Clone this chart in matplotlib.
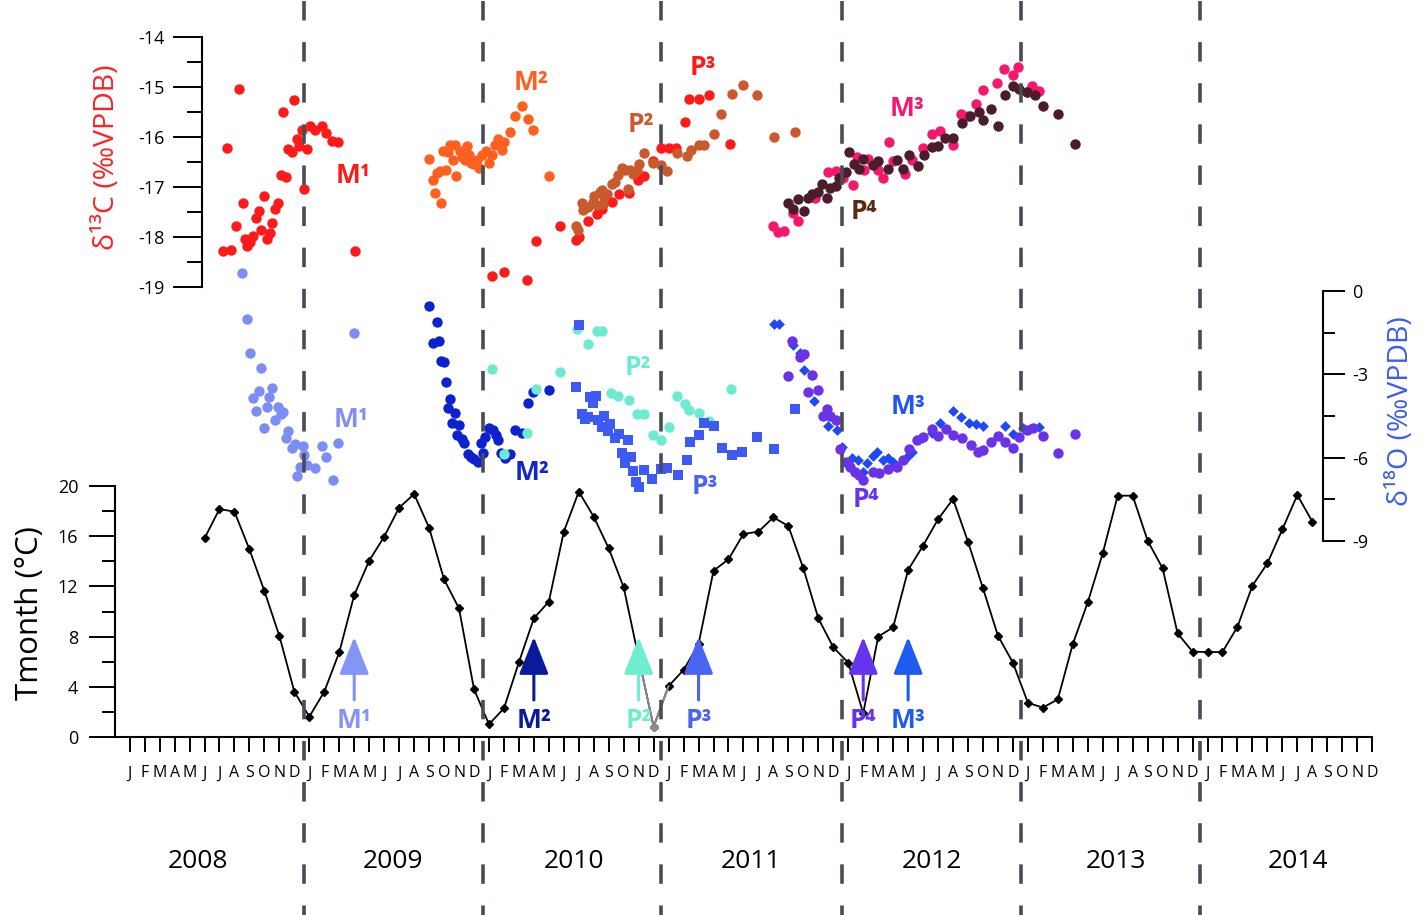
import matplotlib
matplotlib.use("Agg")
import matplotlib.pyplot as plt

plt.rcParams["font.family"] = ["Open Sans", "DejaVu Sans"]
plt.rcParams["axes.unicode_minus"] = False
plt.rcParams["lines.scale_dashes"] = False

# ── data (x = months since Jan 2008, 0 = Jan 2008) ───────────────
MONTH_LETTERS = list("JFMAMJJASOND")
YEARS = ["2008", "2009", "2010", "2011", "2012", "2013", "2014"]
YEAR_POS = [4.56, 17.59, 29.68, 41.5, 53.6, 65.88, 78.04]
BOUNDARIES = [11.65, 23.58, 35.52, 47.55, 59.53, 71.5]

T_MONTH = list(range(5, 80))
T_VALUE = [15.83, 18.17, 17.95, 14.95, 11.63, 8.05, 3.61,
           1.62, 3.61, 6.75, 11.31, 14.05, 15.96, 18.27, 19.36, 16.68, 12.56, 10.25, 3.82,
           1.01, 2.28, 5.95, 9.46, 10.78, 16.36, 19.55, 17.55, 15.03, 11.93, 6.3, 0.82,
           4.06, 5.34, 7.4, 13.25, 14.16, 16.18, 16.36, 17.5, 16.81, 13.44, 9.46, 7.15,
           5.92, 1.89, 8.0, 8.74, 13.31, 15.25, 17.35, 18.96, 15.56, 11.85, 8.07, 5.92,
           2.73, 2.34, 3.0, 7.41, 10.73, 14.64, 19.23, 19.23, 15.64, 13.44, 8.26, 6.8,
           6.77, 6.77, 8.79, 12.06, 13.84, 16.55, 19.28, 17.16]

# d13C
C_M1_X = [7.32, 6.52, 11.0, 10.26, 12.04, 12.83, 12.38, 11.53, 13.11, 11.16, 13.49, 13.93,
          11.33, 11.86, 10.55, 10.82, 10.09, 10.42, 11.66, 8.99, 7.55, 9.89, 9.71, 8.66,
          8.44, 9.53, 7.10, 8.77, 9.37, 8.22, 7.70, 9.15, 8.04, 7.86, 6.25, 6.77, 15.05]
C_M1_Y = [-15.04, -16.21, -15.26, -15.49, -15.77, -15.78, -15.86, -15.86, -15.91, -16.03, -16.07, -16.09,
          -16.17, -16.23, -16.24, -16.29, -16.76, -16.79, -17.03, -17.17, -17.31, -17.31, -17.43, -17.48,
          -17.61, -17.71, -17.77, -17.86, -17.91, -17.98, -18.04, -18.04, -18.09, -18.18, -18.27, -18.26, -18.28]

C_M2_X = [20.01, 20.24, 20.41, 20.78, 20.55, 20.73, 21.13, 20.95, 21.40, 21.73, 21.28, 21.58,
          21.80, 22.06, 22.18, 22.51, 22.40, 22.69, 22.78, 23.0, 23.18, 23.33, 23.55, 23.80,
          24.02, 24.22, 24.40, 24.58, 24.85, 25.02, 25.40, 25.74, 26.19, 26.59, 26.92, 28.01]
C_M2_Y = [-16.43, -16.86, -17.11, -17.31, -16.71, -16.68, -16.66, -16.27, -16.16, -16.16, -16.29, -16.46,
          -16.78, -16.27, -16.39, -16.18, -16.45, -16.36, -16.51, -16.54, -16.46, -16.61, -16.35, -16.27,
          -16.51, -16.35, -16.16, -16.04, -16.25, -16.09, -15.89, -15.57, -15.38, -15.63, -15.85, -16.77]

C_P3_X = [24.18, 25.02, 26.52, 27.14, 28.74, 29.79, 30.01, 30.63, 31.20, 31.57, 32.20, 32.69,
          33.35, 33.93, 34.38, 34.94, 35.49, 36.05, 36.49, 37.09, 37.38, 38.05, 38.72, 40.10]
C_P3_Y = [-18.78, -18.69, -18.86, -18.07, -17.78, -18.06, -18.0, -17.67, -17.53, -17.43, -17.29, -17.14,
          -17.11, -16.86, -16.78, -16.47, -16.21, -16.21, -16.21, -15.69, -15.24, -15.23, -15.15, -16.13]

C_P2_X = [29.79, 29.97, 30.19, 30.41, 30.30, 30.63, 30.93, 31.04, 31.20, 31.42, 31.53, 31.68,
          31.86, 31.64, 32.20, 32.42, 32.64, 32.87, 33.09, 33.31, 33.42, 33.64, 33.91, 34.04,
          34.38, 34.94, 35.49, 35.87, 36.58, 37.25, 37.47, 38.05, 38.38, 39.03, 39.50, 40.21,
          40.95, 41.88, 43.04, 44.44]
C_P2_Y = [-17.78, -17.86, -17.31, -17.39, -17.45, -17.39, -17.29, -17.18, -17.36, -17.09, -17.05, -17.19,
          -17.14, -17.34, -16.93, -16.89, -16.76, -16.61, -16.65, -17.03, -16.65, -16.73, -16.65, -16.54,
          -16.31, -16.51, -16.56, -16.68, -16.33, -16.38, -16.25, -16.16, -16.16, -15.94, -15.54, -15.14,
          -14.96, -15.16, -15.99, -15.89]

C_M3_X = [42.99, 43.33, 43.73, 44.33, 44.62, 45.78, 46.67, 47.18, 47.67, 48.30, 48.60, 49.05,
          49.34, 50.01, 50.30, 50.74, 50.97, 51.79, 52.24, 52.97, 53.57, 54.13, 55.02, 55.51,
          56.02, 56.53, 56.98, 57.92, 58.42, 58.98, 59.36, 59.92, 60.25, 60.76]
C_M3_Y = [-17.77, -17.89, -17.87, -17.51, -17.67, -17.21, -16.69, -16.68, -16.81, -16.96, -16.39, -16.65,
          -16.43, -16.66, -16.83, -16.09, -16.49, -16.74, -16.46, -16.21, -15.93, -15.88, -16.16, -15.53,
          -15.58, -15.34, -15.05, -14.91, -14.64, -14.76, -14.61, -15.09, -14.98, -15.07]

C_P4_X = [43.99, 44.29, 44.66, 45.04, 45.29, 45.56, 46.0, 46.23, 46.56, 46.78, 47.18, 47.40,
          47.85, 48.07, 48.40, 48.72, 49.0, 49.67, 50.01, 50.67, 51.24, 51.64, 52.08, 52.64,
          53.06, 53.57, 53.97, 54.46, 55.02, 55.58, 56.13, 56.73, 56.98, 57.52, 58.02, 58.47,
          58.98, 59.43, 59.96, 60.47, 61.03, 62.03, 63.15]
C_P4_Y = [-17.31, -17.43, -17.24, -17.47, -17.21, -17.14, -17.09, -16.93, -17.21, -17.01, -16.98, -16.83,
          -16.69, -16.29, -16.53, -16.63, -16.44, -16.56, -16.47, -16.63, -16.46, -16.63, -16.36, -16.58,
          -16.36, -16.19, -16.18, -16.01, -16.01, -15.71, -15.57, -15.49, -15.65, -15.44, -15.78, -15.15,
          -14.98, -15.04, -15.09, -15.15, -15.38, -15.53, -16.13]

# d18O
O_M1_X = [7.52, 7.86, 15.0, 8.04, 8.77, 8.64, 9.53, 8.22, 9.33, 8.44, 9.19, 9.93, 10.26, 10.09,
          8.99, 9.71, 10.59, 10.44, 11.04, 10.82, 11.60, 11.66, 12.83, 13.11, 13.93, 11.38,
          11.86, 12.38, 11.16, 13.56]
O_M1_Y = [0.66, -1.02, -1.50, -2.22, -2.78, -3.59, -3.48, -3.84, -3.80, -4.31, -4.18, -4.16, -4.34, -4.42,
          -4.92, -4.66, -5.04, -5.30, -5.50, -5.66, -5.58, -5.90, -5.58, -5.96, -5.48, -6.32,
          -6.26, -6.36, -6.65, -6.82]

O_M2_X = [20.01, 20.55, 20.28, 20.68, 20.80, 21.0, 21.13, 21.40, 21.28, 21.73, 21.55, 22.0,
          21.84, 22.18, 22.35, 22.62, 22.78, 23.0, 23.29, 23.58, 23.45, 23.73, 24.02, 24.29,
          24.47, 24.62, 24.78, 25.07, 25.40, 25.74, 26.19, 26.59, 26.92, 28.03]
O_M2_Y = [-0.54, -1.10, -1.86, -1.79, -2.51, -2.54, -3.26, -3.90, -4.22, -4.40, -4.76, -4.82,
          -5.18, -5.34, -5.48, -5.86, -5.96, -6.05, -6.14, -5.84, -5.48, -5.24, -4.92, -5.00,
          -5.18, -5.36, -5.84, -6.02, -5.87, -5.00, -5.12, -4.04, -3.62, -3.56]

O_P2_X = [24.18, 25.02, 26.52, 27.14, 28.74, 29.86, 30.59, 31.20, 31.53, 32.15, 32.64, 33.35,
          33.87, 34.38, 34.98, 35.49, 36.05, 36.54, 37.09, 37.38, 38.05, 38.70, 40.15]
O_P2_Y = [-2.81, -5.86, -5.12, -3.54, -2.92, -1.37, -1.91, -1.43, -1.43, -3.68, -3.78, -3.92,
          -4.42, -4.42, -5.20, -5.36, -4.88, -3.77, -4.06, -4.28, -4.40, -4.67, -3.54]

O_P3_X = [30.01, 29.79, 30.75, 31.13, 30.97, 30.23, 30.59, 30.41, 31.30, 31.70, 31.53, 32.08,
          31.93, 32.42, 32.71, 33.27, 32.91, 33.47, 33.09, 33.64, 34.38, 34.87, 33.82, 34.02,
          35.49, 35.87, 36.61, 37.21, 37.43, 38.03, 38.38, 39.03, 39.55, 40.21, 40.92, 41.88,
          43.04, 44.44]
O_P3_Y = [-1.22, -3.46, -3.82, -3.78, -4.02, -4.42, -4.54, -4.62, -4.64, -4.50, -4.88, -4.80,
          -5.03, -5.30, -5.14, -5.38, -5.82, -5.98, -6.18, -6.47, -6.44, -6.77, -6.88, -7.06,
          -6.40, -6.38, -6.64, -6.08, -5.44, -5.18, -4.74, -4.85, -5.64, -5.90, -5.78, -5.26,
          -5.68, -4.24]

O_M3_X = [43.04, 43.37, 44.33, 44.78, 45.06, 45.71, 46.67, 47.23, 47.56, 48.27, 48.63, 49.0,
          49.27, 49.67, 49.94, 50.34, 50.67, 51.01, 51.90, 52.24, 52.95, 53.57, 54.13, 54.98,
          55.51, 56.07, 56.53, 56.98, 58.47, 59.02, 59.69, 60.14, 60.76]
O_M3_Y = [-1.19, -1.19, -1.94, -2.24, -2.84, -3.95, -4.86, -5.02, -5.62, -6.0, -6.08, -6.50,
          -6.18, -5.94, -5.78, -6.10, -6.00, -6.14, -5.96, -5.78, -5.30, -5.10, -4.74, -4.32,
          -4.54, -4.74, -4.80, -4.85, -4.86, -5.14, -4.94, -4.96, -4.88]

O_P4_X = [44.26, 43.99, 44.78, 45.04, 45.60, 45.29, 46.0, 46.56, 46.33, 46.78, 47.18, 47.45,
          47.85, 48.12, 48.45, 48.74, 49.0, 49.67, 50.05, 50.63, 51.24, 51.64, 52.08, 52.57,
          53.01, 53.61, 53.97, 54.51, 55.02, 55.62, 56.18, 56.69, 56.98, 57.54, 58.02, 58.47,
          58.98, 59.43, 59.92, 60.36, 61.03, 62.03, 63.15]
O_P4_Y = [-1.79, -3.05, -2.36, -2.28, -3.02, -3.62, -3.56, -4.26, -4.50, -4.50, -4.64, -5.69,
          -6.16, -6.34, -6.50, -6.62, -6.80, -6.50, -6.56, -6.41, -6.34, -6.08, -5.69, -5.38,
          -5.26, -4.96, -5.22, -4.96, -5.20, -5.28, -5.54, -5.78, -5.72, -5.42, -5.22, -5.44,
          -5.66, -5.26, -5.02, -4.94, -5.22, -5.82, -5.16]

# sampling arrows on the temperature curve
ARROW_LABELS = ["M¹", "M²", "P²", "P³", "P⁴", "M³"]
ARROW_MONTHS = [15, 27, 34, 38, 49, 52]
ARROW_COLORS = ["#8494F7", "#0A1A9B", "#6EEDD0", "#4A63F2", "#6633EE", "#1E5BEF"]

# ── figure geometry (pixel based) ────────────────────────────────
W, H = 1427, 915
XLIM = (-0.98, 83.0)
X_L, X_R = 115.0, 1372.2

fig = plt.figure(figsize=(W / 100, H / 100), dpi=100)


def px_axes(top, bottom):
    ax = fig.add_axes([X_L / W, 1 - bottom / H, (X_R - X_L) / W, (bottom - top) / H])
    ax.set_xlim(*XLIM)
    ax.patch.set_visible(False)
    return ax


ax_t = px_axes(486, 737)
ax_c = px_axes(37, 287)
ax_o = px_axes(291, 541)
ax_v = px_axes(0, 915)

# ── temperature panel ───────────────────────────────────────────
ax_t.plot(T_MONTH, T_VALUE, color="black", lw=1.3, marker="D", ms=4.5, zorder=3)
gi = T_MONTH.index(35)
ax_t.plot(T_MONTH[gi - 1:gi + 2], T_VALUE[gi - 1:gi + 2], color="#8c8c8c", lw=1.3, zorder=3)
ax_t.plot(T_MONTH[gi], T_VALUE[gi], color="#8c8c8c", marker="D", ms=4.5, zorder=3)

for lab, m, c in zip(ARROW_LABELS, ARROW_MONTHS, ARROW_COLORS):
    ax_t.annotate("", xy=(m, 7.97), xytext=(m, 2.95),
                  arrowprops=dict(arrowstyle="-|>,head_length=0.58,head_width=0.23",
                                  mutation_scale=40, color=c, lw=2.2,
                                  shrinkA=0, shrinkB=0), zorder=4)
    ax_t.text(m, 1.35, lab, color=c, fontsize=19, fontweight="bold",
              ha="center", va="center", zorder=4)

ax_t.set_ylim(0, 20)
ax_t.set_yticks(range(0, 21, 4))
ax_t.set_yticks(range(2, 20, 4), minor=True)
ax_t.set_xticks(range(84))
ax_t.set_xticklabels(MONTH_LETTERS * 7)
ax_t.tick_params(axis="y", which="major", length=18.5, width=1.4, labelsize=13, pad=8)
ax_t.tick_params(axis="y", which="minor", length=9.5, width=1.4)
ax_t.tick_params(axis="x", length=10.5, width=1.4, labelsize=11.5, pad=10)
ax_t.spines[["top", "right"]].set_visible(False)
ax_t.spines[["left", "bottom"]].set_linewidth(1.5)

# ── d13C panel ──────────────────────────────────────────────────
sc = dict(s=56, linewidths=0, zorder=3)
ax_c.scatter(C_M1_X, C_M1_Y, color="#FF1A1A", **sc)
ax_c.scatter(C_M2_X, C_M2_Y, color="#FF5F1F", **sc)
ax_c.scatter(C_P3_X, C_P3_Y, color="#FF1A1A", **sc)
ax_c.scatter(C_P2_X, C_P2_Y, color="#C85A2D", **sc)
ax_c.scatter(C_M3_X, C_M3_Y, color="#F5186E", **sc)
ax_c.scatter(C_P4_X, C_P4_Y, color="#4B1D2B", **sc)

lab_kw = dict(fontsize=19, fontweight="bold", ha="center", va="center")
ax_c.text(14.92, -16.76, "M¹", color="#FF1A1A", **lab_kw)
ax_c.text(26.81, -14.92, "M²", color="#FF5F1F", **lab_kw)
ax_c.text(34.12, -15.76, "P²", color="#C85A2D", **lab_kw)
ax_c.text(38.30, -14.62, "P³", color="#FF1A1A", **lab_kw)
ax_c.text(51.93, -15.42, "M³", color="#F5186E", **lab_kw)
ax_c.text(49.05, -17.48, "P⁴", color="#5A2A10", **lab_kw)

ax_c.set_ylim(-19, -14)
ax_c.set_yticks(range(-19, -13))
ax_c.set_yticks([-18.5, -17.5, -16.5, -15.5, -14.5], minor=True)
ax_c.spines[["top", "right", "bottom"]].set_visible(False)
ax_c.spines["left"].set_position(("data", 4.83))
ax_c.spines["left"].set_linewidth(1.5)
ax_c.tick_params(axis="x", bottom=False, labelbottom=False)
ax_c.tick_params(axis="y", which="major", length=21, width=1.4, labelsize=13, pad=6)
ax_c.tick_params(axis="y", which="minor", length=10.5, width=1.4)

# ── d18O panel ──────────────────────────────────────────────────
so = dict(linewidths=0, zorder=3, clip_on=False)
ax_o.scatter(O_M1_X, O_M1_Y, color="#7C8DF6", s=56, **so)
ax_o.scatter(O_M2_X, O_M2_Y, color="#0D22CF", s=56, **so)
ax_o.scatter(O_P2_X, O_P2_Y, color="#6DEBD0", s=56, **so)
ax_o.scatter(O_P3_X, O_P3_Y, color="#3D5BF4", s=44, marker="s", **so)
ax_o.scatter(O_M3_X, O_M3_Y, color="#1F48FA", s=30, marker="D", **so)
ax_o.scatter(O_P4_X, O_P4_Y, color="#6A33E8", s=56, **so)

ax_o.text(14.78, -4.64, "M¹", color="#7F8FF5", **lab_kw)
ax_o.text(26.87, -6.55, "M²", color="#1227C9", **lab_kw)
ax_o.text(33.96, -2.77, "P²", color="#6DEBD0", **lab_kw)
ax_o.text(38.43, -7.05, "P³", color="#4A63F2", **lab_kw)
ax_o.text(51.99, -4.17, "M³", color="#1F55F2", **lab_kw)
ax_o.text(49.18, -7.52, "P⁴", color="#6633EE", **lab_kw)

ax_o.set_ylim(-9, 0)
ax_o.yaxis.tick_right()
ax_o.set_yticks([-9, -6, -3, 0])
ax_o.set_yticks([-7.5, -4.5, -1.5], minor=True)
ax_o.spines[["top", "left", "bottom"]].set_visible(False)
ax_o.spines["right"].set_position(("data", 79.71))
ax_o.spines["right"].set_linewidth(1.5)
ax_o.tick_params(axis="x", bottom=False, labelbottom=False)
ax_o.tick_params(axis="y", which="major", length=16, width=1.4, labelsize=13, pad=5)
ax_o.tick_params(axis="y", which="minor", length=8.5, width=1.4)

# ── year boundaries and year labels ──────────────────────────────
ax_v.set_ylim(H, 0)
ax_v.axis("off")
for b in BOUNDARIES:
    ax_v.plot([b, b], [1.3, H], color="#474C57", lw=2.6, dashes=(14.0, 15.6), zorder=10)
for yr, pos in zip(YEARS, YEAR_POS):
    ax_v.text(pos, 861, yr, fontsize=19, ha="center", va="center")

# ── axis titles ─────────────────────────────────────────────────
fig.text(30 / W, 1 - 613 / H, "Tmonth (°C)", rotation=90, fontsize=22.5,
         ha="center", va="center")
fig.text(107 / W, 1 - 157 / H, "δ¹³C (‰VPDB)", rotation=90, fontsize=20.5,
         color="#FF2020", ha="center", va="center")
fig.text(1401 / W, 1 - 411 / H, "δ¹⁸O (‰VPDB)", rotation=90, fontsize=20.5,
         color="#3A5CF5", ha="center", va="center")

fig.savefig("out.png", dpi=100)
